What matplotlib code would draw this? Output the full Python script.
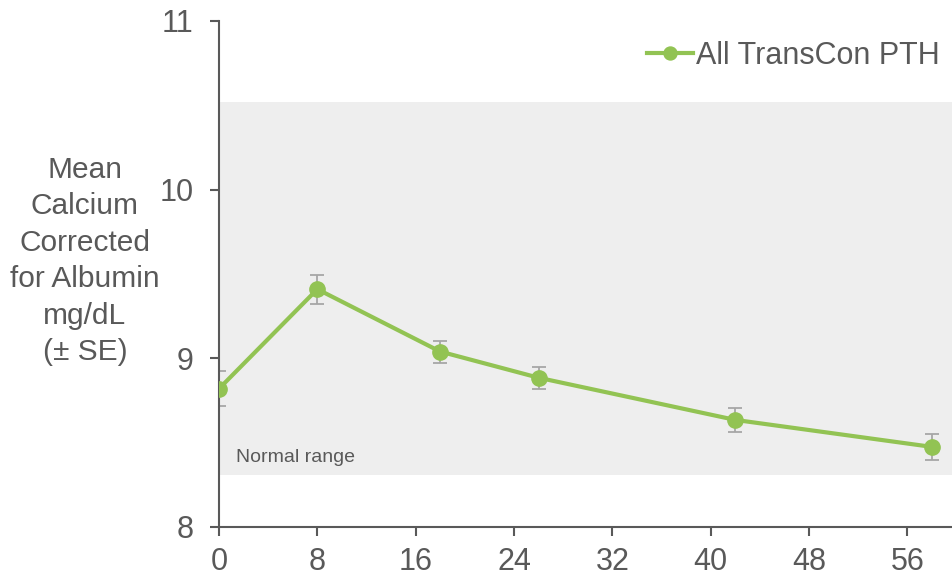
import matplotlib
matplotlib.use("Agg")
import matplotlib.pyplot as plt

weeks = [0, 8, 18, 26, 42, 58]
mean_ca = [8.82, 9.41, 9.04, 8.885, 8.635, 8.475]
se = [0.105, 0.085, 0.065, 0.066, 0.073, 0.078]
normal_range = (8.31, 10.52)
xticks = [0, 8, 16, 24, 32, 40, 48, 56]
yticks = [8, 9, 10, 11]
series_label = "All TransCon PTH"
ylabel = "Mean\nCalcium\nCorrected\nfor Albumin\nmg/dL\n(± SE)"

plt.rcParams['font.family'] = ['Liberation Sans', 'DejaVu Sans']
txt = '#595959'
green = '#92c353'

fig = plt.figure(figsize=(9.53, 5.79), dpi=100)
ax = fig.add_axes([219/953, 52/579, (953-219)/953, (527-21)/579])
ax.set_xlim(0, 59.72)
ax.set_ylim(8, 11)

ax.axhspan(normal_range[0], normal_range[1], color='#eeeeee', zorder=0, lw=0)
ax.text(1.35, normal_range[0] + 0.05, "Normal range", fontsize=14, color=txt, va='bottom', ha='left')

ax.errorbar(weeks, mean_ca, yerr=se, fmt='none', ecolor='#a6a6a6', elinewidth=1.3,
            capsize=5, capthick=1.3, zorder=2)
ax.plot(weeks, mean_ca, color=green, lw=3, marker='o', markersize=11, zorder=3,
        label=series_label)

for s in ['top', 'right']:
    ax.spines[s].set_visible(False)
for s in ['left', 'bottom']:
    ax.spines[s].set_color(txt)
    ax.spines[s].set_linewidth(1.5)
ax.set_xticks(xticks)
ax.set_yticks(yticks)
ax.tick_params(axis='both', direction='out', length=6.5, width=1.5, color=txt,
               labelcolor=txt, labelsize=22)
ax.tick_params(axis='y', pad=12)
ax.tick_params(axis='x', pad=8)

fig.text(85/953, 1-261/579, ylabel, ha='center', va='center', multialignment='center',
         fontsize=21.5, color=txt, linespacing=1.38)

leg = ax.legend(loc='upper right', bbox_to_anchor=(940/953, 1-41/579),
                bbox_transform=fig.transFigure, frameon=False, fontsize=22,
                handlelength=1.5, handletextpad=0.12, borderpad=0, borderaxespad=0,
                markerscale=0.85)
for t in leg.get_texts():
    t.set_color(txt)

fig.savefig('out.png', dpi=100)
